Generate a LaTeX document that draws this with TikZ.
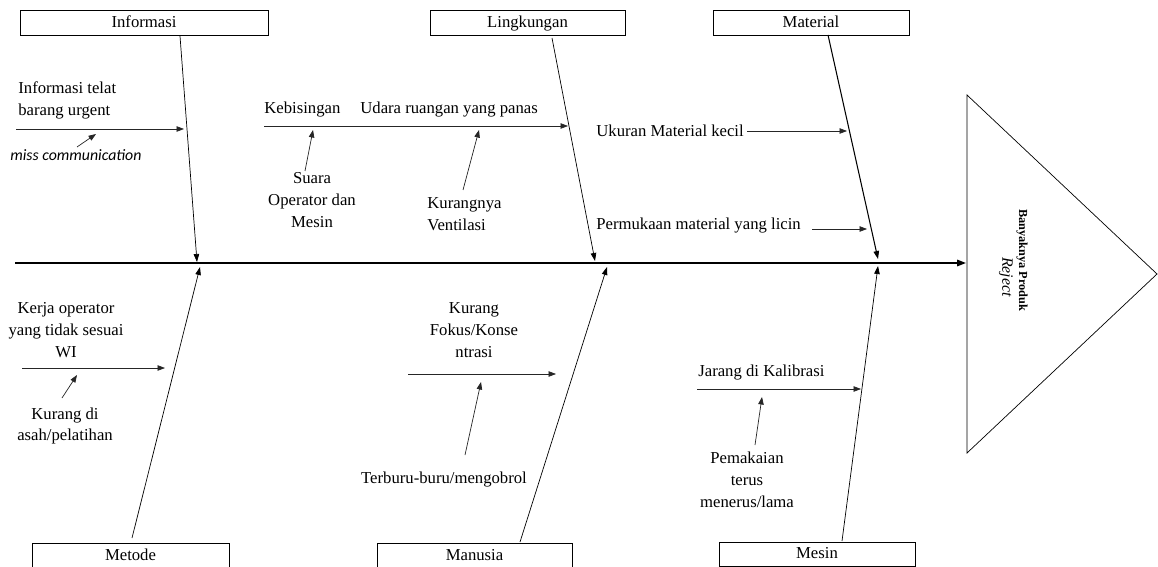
\documentclass[tikz,border=0pt]{standalone}
\usepackage{fontspec}
\setmainfont{Liberation Serif}
\newfontfamily\calibrifont{Carlito}
\usetikzlibrary{arrows.meta}
\tikzset{
  catbox/.style={draw, thin, minimum height=0.5cm, inner sep=0pt, text height=1.55ex, text depth=0.45ex, font=\fontsize{9.5}{12}\selectfont},
  txt/.style={inner sep=0pt, align=center, font=\fontsize{9.5}{12.5}\selectfont},
  bone/.style={-{Triangle[length=1.6mm,width=1.1mm]}, thin},
  sub/.style={-{Triangle[length=1.5mm,width=1.1mm]}, thin, black!85},
}
\begin{document}
\begin{tikzpicture}[x=0.02cm, y=-0.02cm]
  \useasboundingbox (0,0) rectangle (1158,567);
  % effect
  \draw[thin] (967,95) -- (1157,274) -- (967,453) -- cycle;
  \node[inner sep=0pt, rotate=-90, font=\fontsize{7}{9}\selectfont\bfseries] (effect) at (1022,260) {Banyaknya Produk};
  \node[inner sep=0pt, rotate=-90, font=\fontsize{9}{11}\selectfont\itshape] (reject) at (1006,277) {Reject};
  % spine
  \coordinate (spineL) at (15,263);
  \coordinate (spineR) at (966,263);
  \draw[-{Triangle[length=1.8mm,width=1.3mm]}, line width=0.9pt] (spineL) -- (spineR);

  % Informasi
  \node[catbox, minimum width=4.96cm] (info) at (144,23) {Informasi};
  \coordinate (infoA) at (180,36); \coordinate (infoB) at (197,262);
  \draw[bone] (infoA) -- (infoB);
  \node[txt, anchor=west, align=left] (telat) at (18,100) {Informasi telat\\barang urgent};
  \coordinate (telatA) at (16,129); \coordinate (telatB) at (184,129);
  \draw[sub] (telatA) -- (telatB);
  \node[inner sep=0pt, anchor=west, font=\calibrifont\itshape\fontsize{9}{11}\selectfont] (miss) at (10,155) {miss communication};
  \coordinate (missA) at (77,147); \coordinate (missB) at (96,134);
  \draw[sub] (missA) -- (missB);

  % Lingkungan
  \node[catbox, minimum width=3.9cm] (ling) at (527.5,23) {Lingkungan};
  \coordinate (lingA) at (552,38); \coordinate (lingB) at (595,261);
  \draw[bone] (lingA) -- (lingB);
  \node[txt, anchor=west] (bising) at (264,110) {Kebisingan};
  \node[txt, anchor=west] (udara) at (360,110) {Udara ruangan yang panas};
  \coordinate (udaraA) at (264,126); \coordinate (udaraB) at (568,126);
  \draw[sub] (udaraA) -- (udaraB);
  \node[txt] (suara) at (312,200) {Suara\\Operator dan\\Mesin};
  \coordinate (suaraA) at (305,171); \coordinate (suaraB) at (313,130);
  \draw[sub] (suaraA) -- (suaraB);
  \node[txt, anchor=west, align=left] (venti) at (427,214) {Kurangnya\\Ventilasi};
  \coordinate (ventiA) at (463,190); \coordinate (ventiB) at (479,130);
  \draw[sub] (ventiA) -- (ventiB);

  % Material
  \node[catbox, minimum width=3.92cm] (mat) at (811,23) {Material};
  \coordinate (matA) at (828,35); \coordinate (matB) at (878,259);
  \draw[bone, semithick] (matA) -- (matB);
  \node[txt, anchor=west] (ukuran) at (596,131) {Ukuran Material kecil};
  \coordinate (ukuranA) at (747,131); \coordinate (ukuranB) at (847,131);
  \draw[sub] (ukuranA) -- (ukuranB);
  \node[txt, anchor=west] (licin) at (596,226) {Permukaan material yang licin};
  \coordinate (licinA) at (812,229); \coordinate (licinB) at (867,229);
  \draw[sub] (licinA) -- (licinB);

  % Metode
  \node[catbox, minimum width=3.94cm, minimum height=0.52cm] (metode) at (130.5,556) {Metode};
  \coordinate (metA) at (132,538); \coordinate (metB) at (200,267);
  \draw[bone] (metA) -- (metB);
  \node[txt] (kerja) at (66,330) {Kerja operator\\yang tidak sesuai\\WI};
  \coordinate (kerjaA) at (22,368); \coordinate (kerjaB) at (165,368);
  \draw[sub] (kerjaA) -- (kerjaB);
  \node[txt] (asah) at (65,426) {Kurang di\\asah/pelatihan};
  \coordinate (asahA) at (62,398); \coordinate (asahB) at (77,375);
  \draw[sub] (asahA) -- (asahB);

  % Manusia
  \node[catbox, minimum width=3.9cm, minimum height=0.52cm] (manusia) at (474.5,556) {Manusia};
  \coordinate (manA) at (520,542); \coordinate (manB) at (607,267);
  \draw[bone] (manA) -- (manB);
  \node[txt] (fokus) at (474,330) {Kurang\\Fokus/Konse\\ntrasi};
  \coordinate (fokusA) at (408,374); \coordinate (fokusB) at (556,374);
  \draw[sub] (fokusA) -- (fokusB);
  \node[txt] (buru) at (444,480) {Terburu-buru/mengobrol};
  \coordinate (buruA) at (465,455); \coordinate (buruB) at (481,382);
  \draw[sub] (buruA) -- (buruB);

  % Mesin
  \node[catbox, minimum width=3.92cm, minimum height=0.48cm] (mesin) at (817,554) {Mesin};
  \coordinate (mesA) at (842,541); \coordinate (mesB) at (878,266);
  \draw[bone] (mesA) -- (mesB);
  \node[txt, anchor=west] (kalib) at (698,373) {Jarang di Kalibrasi};
  \coordinate (kalibA) at (697,389); \coordinate (kalibB) at (861,389);
  \draw[sub] (kalibA) -- (kalibB);
  \node[txt] (pakai) at (747,480) {Pemakaian\\terus\\menerus/lama};
  \coordinate (pakaiA) at (755,445); \coordinate (pakaiB) at (762,397);
  \draw[sub] (pakaiA) -- (pakaiB);
\end{tikzpicture}
\end{document}
